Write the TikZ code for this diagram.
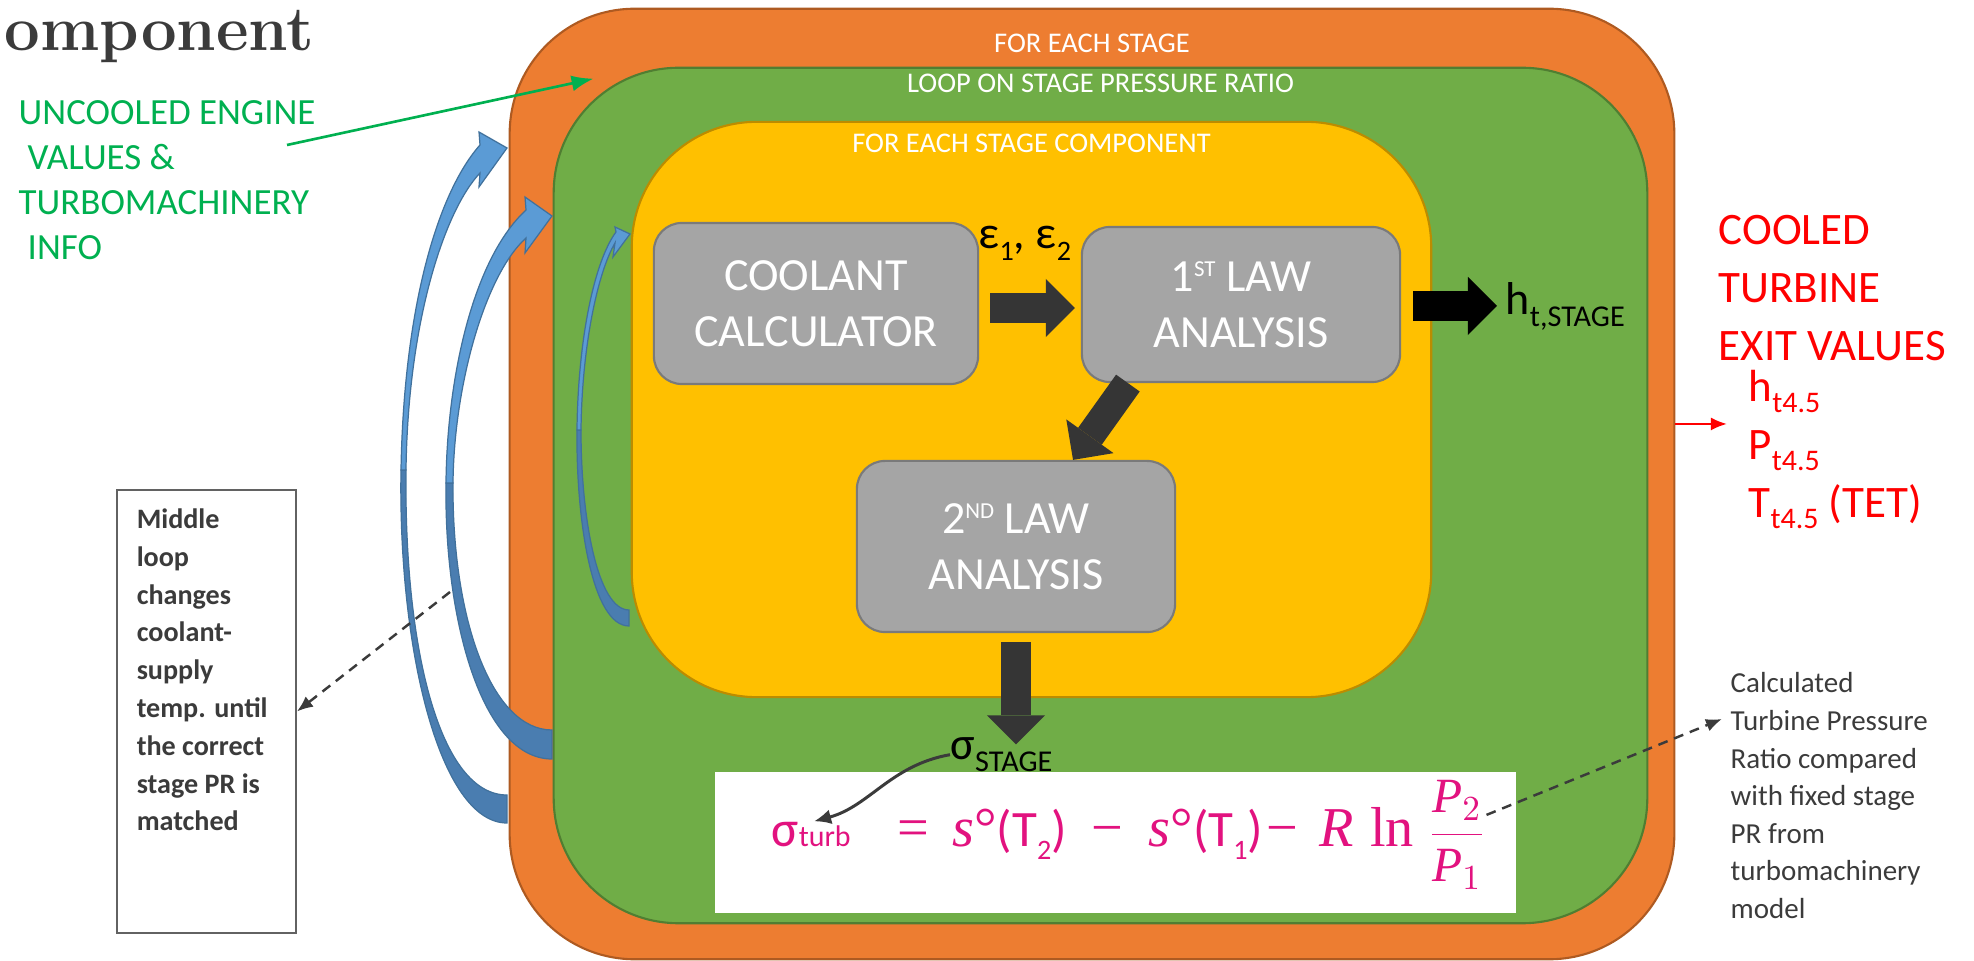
\documentclass[tikz,border=0pt]{standalone}
\usepackage{fontspec}
\newfontfamily\calibri{Carlito}
\newfontfamily\timesfont{Liberation Serif}
\usetikzlibrary{arrows.meta}
\definecolor{stageorange}{HTML}{ED7D31}
\definecolor{stageedge}{HTML}{AE5A21}
\definecolor{loopgreen}{HTML}{70AD47}
\definecolor{loopedge}{HTML}{507E32}
\definecolor{compyellow}{HTML}{FFC000}
\definecolor{compedge}{HTML}{BC8C00}
\definecolor{boxgrey}{HTML}{A5A5A5}
\definecolor{boxedge}{HTML}{7A7A7A}
\definecolor{bluelight}{HTML}{5B9BD5}
\definecolor{bluedark}{HTML}{4A7DB0}
\definecolor{blueedge}{HTML}{41719C}
\definecolor{arrowgrey}{HTML}{353535}
\definecolor{notegrey}{HTML}{3B3B3B}
\definecolor{infogreen}{HTML}{00B050}
\definecolor{formpink}{HTML}{E2127F}
\newcommand{\subt}[2][7.5]{\raisebox{-0.24em}{\fontsize{#1}{#1}\selectfont #2}}
\newcommand{\supt}[1]{\raisebox{4.2pt}{\fontsize{6.5}{7}\selectfont #1}}
\begin{document}
\begin{tikzpicture}[x=0.01cm,y=0.01cm,
    loopbox/.style={rounded corners=1.25cm,line width=0.6pt,inner sep=0pt},
    looptitle/.style={text=white,font=\calibri\fontsize{8.1}{9}\selectfont,inner sep=0pt,anchor=north},
    stepbox/.style={draw=boxedge,fill=boxgrey,rounded corners=0.28cm,line width=0.6pt,text=white,align=center,
        font=\calibri\fontsize{13.1}{15.9}\selectfont,inner sep=0pt},
    blockarr/.style={line width=0.29cm,-{Triangle[length=0.29cm,width=0.58cm,line width=0pt]}},
    looplight/.style={fill=bluelight,draw=blueedge,line width=0.35pt},
    loopdark/.style={fill=bluedark,draw=blueedge,line width=0.35pt},
    infotext/.style={anchor=north west,align=left,inner sep=0pt,text=infogreen,font=\calibri\fontsize{10.5}{12.8}\selectfont},
    exittext/.style={anchor=north west,align=left,inner sep=0pt,text=red,font=\calibri\fontsize{12.8}{16.4}\selectfont},
    calctext/.style={anchor=north west,align=left,inner sep=0pt,text=notegrey,font=\calibri\fontsize{8.25}{10.7}\selectfont},
    notetext/.style={anchor=north west,align=left,inner sep=0pt,text=notegrey,font=\calibri\bfseries\fontsize{8}{10.75}\selectfont},
    notebox/.style={draw=notegrey!80,line width=0.5pt,inner sep=0pt,minimum width=1.79cm,minimum height=4.43cm},
    mathlabel/.style={anchor=base west,inner sep=0pt,font=\calibri\fontsize{13.1}{14}\selectfont},
    formtext/.style={anchor=base west,inner sep=0pt,text=formpink},
    infoarrow/.style={draw=infogreen,line width=0.75pt,-{Latex[length=0.22cm,width=0.16cm]}},
    exitarrow/.style={draw=red,line width=0.65pt,-{Latex[length=0.16cm,width=0.13cm]}},
    notearrow/.style={draw=notegrey,line width=0.7pt,dash pattern=on 2.8pt off 2pt,-{Latex[length=0.16cm,width=0.13cm]}},
    sigarrow/.style={draw=notegrey,line width=0.85pt,-{Latex[length=0.17cm,width=0.15cm]}}
]
\useasboundingbox (0,0) rectangle (1974,-961);

\node[anchor=base west,inner sep=0pt,text=notegrey,font=\bfseries\fontsize{18}{19}\selectfont] (title) at (4,-51) {omponent};

\node[loopbox,fill=stageorange,draw=stageedge,minimum width=11.64cm,minimum height=9.5cm] (stage) at (1092,-484) {};
\node[loopbox,fill=loopgreen,draw=loopedge,minimum width=10.93cm,minimum height=8.55cm] (prloop) at (1100.5,-495.5) {};
\node[loopbox,fill=compyellow,draw=compedge,minimum width=7.99cm,minimum height=5.75cm] (comp) at (1031.5,-409.5) {};

\node[looptitle] (stagetitle) at ([yshift=-0.26cm]stage.north) {FOR EACH STAGE};
\node[looptitle] (prtitle) at ([yshift=-0.07cm]prloop.north) {LOOP ON STAGE PRESSURE RATIO};
\node[looptitle] (comptitle) at ([yshift=-0.13cm]comp.north) {FOR EACH STAGE COMPONENT};

\node[stepbox,minimum width=3.24cm,minimum height=1.61cm] (cc) at (816,-303.5) {COOLANT\\CALCULATOR};
\node[stepbox,minimum width=3.18cm,minimum height=1.55cm] (law1) at (1241,-304.5) {1\supt{ST} LAW\\ANALYSIS};
\node[stepbox,minimum width=3.18cm,minimum height=1.71cm] (law2) at (1016,-546.5) {2\supt{ND} LAW\\ANALYSIS};

\node[mathlabel] (eps) at (978,-249) {ε\subt[8]{1}, ε\subt[8]{2}};
\node[mathlabel] (ht) at (1505,-315) {h\subt[8.6]{t,STAGE}};

\node[fill=white,inner sep=0pt,minimum width=8.01cm,minimum height=1.41cm] (formbox) at (1115.5,-842.5) {};
\node[mathlabel] (sigstage) at (950,-760) {σ\subt[8.6]{STAGE}};
\node[formtext,font=\calibri\fontsize{14.5}{16}\selectfont] (sigturb) at (771,-847) {σ{\fontsize{8.5}{9}\selectfont turb}};
\node[formtext,font=\timesfont\fontsize{16}{17}\selectfont] (formula) at (897,-847)
  {=\hspace{0.23cm}\textit{s}°{\calibri\fontsize{14.5}{15}\selectfont(T\subt[8]{2})}\hspace{0.25cm}−\hspace{0.25cm}\textit{s}°{\calibri\fontsize{14.5}{15}\selectfont(T\subt[8]{1})}\hspace{0.03cm}−\hspace{0.22cm}\textit{R}\hspace{0.16cm}ln\hspace{0.14cm}{\fontsize{14}{15}\selectfont$\displaystyle\frac{\textit{P}_2}{\textit{P}_1}$}};

\draw[blockarr,arrowgrey,shorten <=0.11cm,shorten >=0.06cm] ([yshift=-0.045cm]cc.east) -- ([yshift=-0.045cm]cc.east -| law1.west);
\draw[blockarr,black,shorten <=0.12cm,shorten >=0.08cm] ([yshift=-0.015cm]law1.east) -- ([yshift=-0.015cm]law1.east -| ht.west);
\draw[blockarr,arrowgrey] ([xshift=0.47cm]law1.south west) -- ([xshift=0.57cm]law2.north);
\draw[blockarr,arrowgrey,shorten <=0.09cm,shorten >=-0.07cm] (law2.south) -- (law2.south |- sigstage.north);
\draw[sigarrow,shorten >=0.03cm] (sigstage.west) to[out=190,in=15] (sigturb.north);

\filldraw[loopdark] (507,-823) .. controls (440,-823) and (398,-650) .. (401,-470) -- (406,-470) .. controls (404,-650) and (440,-795) .. (507,-795) -- cycle;
\filldraw[looplight] (401,-470) .. controls (404,-300) and (440,-190) .. (480,-145) -- (479,-132) -- (507,-148) -- (479,-187) -- (480,-173) .. controls (445,-210) and (408,-320) .. (406,-470) -- cycle;
\filldraw[loopdark] (552,-759) .. controls (482,-759) and (444,-620) .. (446,-483) -- (453,-483) .. controls (452,-620) and (492,-730) .. (552,-730) -- cycle;
\filldraw[looplight] (446,-483) .. controls (447,-380) and (472,-260) .. (526,-210) -- (525,-197) -- (552,-216) -- (525,-253) -- (526,-238) .. controls (485,-275) and (454,-385) .. (453,-483) -- cycle;
\filldraw[loopdark] (629,-626) .. controls (592,-626) and (576,-520) .. (577,-430) -- (581,-430) .. controls (581,-520) and (598,-610) .. (629,-610) -- cycle;
\filldraw[looplight] (577,-430) .. controls (578,-340) and (594,-262) .. (616,-232) -- (615,-227) -- (630,-234) -- (613,-257) -- (615,-243) .. controls (598,-272) and (582,-345) .. (581,-430) -- cycle;

\node[infotext] (uncooled) at (18,-100) {UNCOOLED ENGINE\\\hspace*{0.09cm}VALUES \&\\TURBOMACHINERY\\\hspace*{0.09cm}INFO};
\node[exittext] (cooled) at (1718,-215) {COOLED\\TURBINE\\EXIT VALUES};
\node[exittext] (exitvals) at (1748,-370) {h\subt[8.5]{t4.5}\\P\subt[8.5]{t4.5}\\T\subt[8.5]{t4.5} (TET)};
\node[notebox] (note) at (206.5,-711.5) {};
\node[notetext] (notetxt) at ([shift={(20,-19)}]note.north west) {Middle\\loop\\changes\\coolant-\\supply\\temp. until\\the correct\\stage PR is\\matched};
\node[calctext] (calc) at (1730,-672) {Calculated\\Turbine Pressure\\Ratio compared\\with fixed stage\\PR from\\turbomachinery\\model};

\coordinate (midloop) at (450,-592);
\draw[infoarrow] ([shift={(269,-45)}]uncooled.north west) -- ([shift={(85,-71)}]stage.north west);
\draw[exitarrow,shorten >=0.21cm] ([yshift=0.6cm]stage.east) -- ([yshift=0.6cm]stage.east -| exitvals.west);
\draw[notearrow] (midloop) -- (note.east);
\draw[notearrow] ([shift={(0,20)}]formula.east) -- ([shift={(-8,-47)}]calc.north west);
\end{tikzpicture}
\end{document}
